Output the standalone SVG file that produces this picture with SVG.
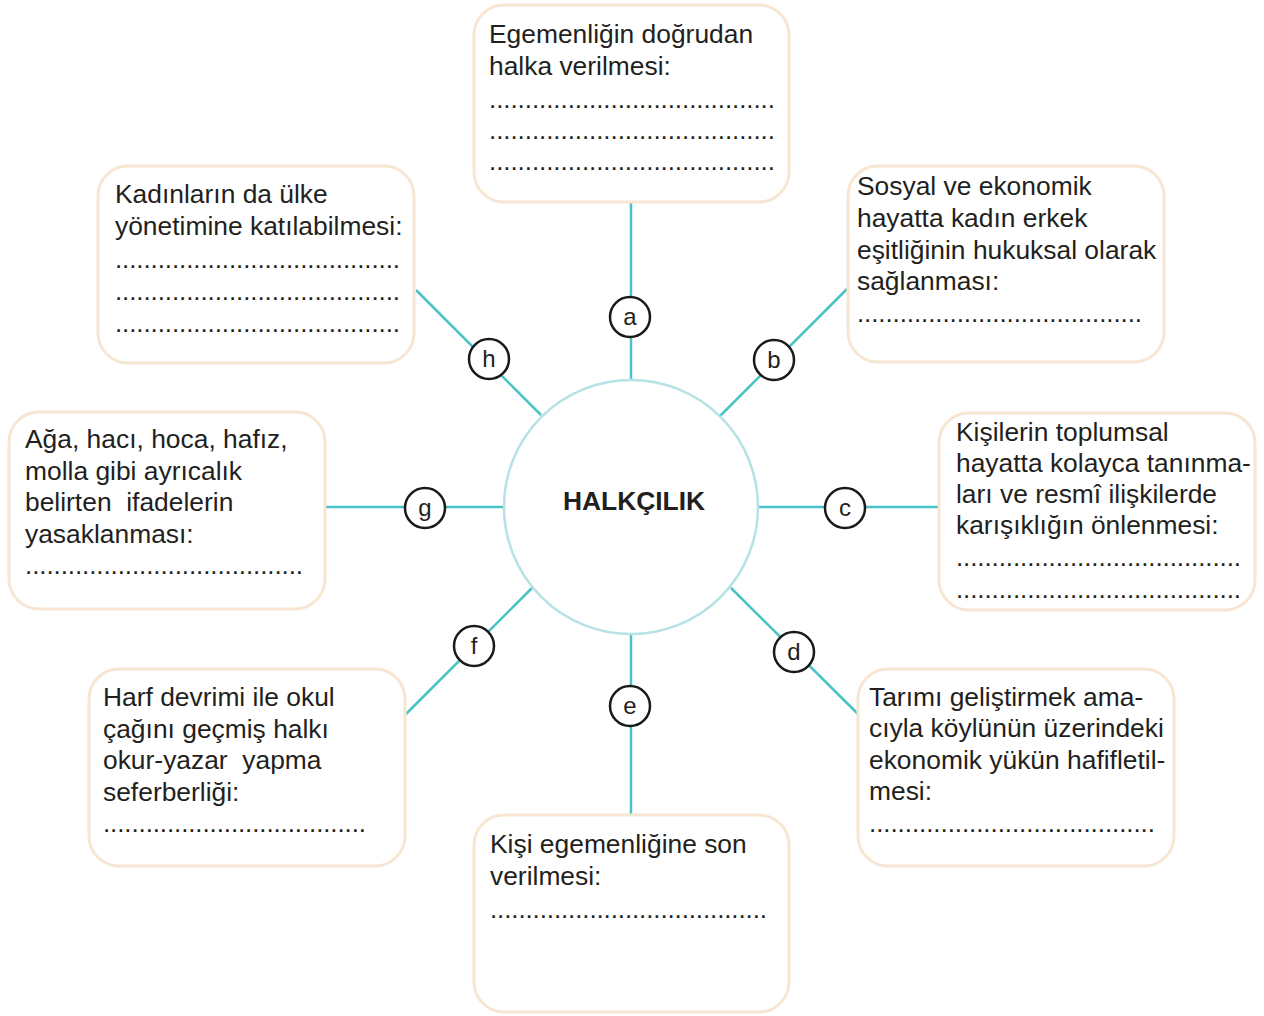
<svg xmlns="http://www.w3.org/2000/svg" width="1264" height="1016" viewBox="0 0 1264 1016">
<style>
.box{fill:#fff;stroke:#f6e6d2;stroke-width:3}
.t{font-family:"Liberation Sans",Arial,sans-serif;font-size:26.4px;fill:#231f20}
.d{font-family:"Liberation Sans",Arial,sans-serif;font-size:26px;fill:#231f20}
.con{stroke:#48c2c6;stroke-width:2.5;fill:none}
.lc{fill:#fff;stroke:#1a1a1a;stroke-width:2.5}
.lt{font-family:"Liberation Sans",Arial,sans-serif;font-size:24px;fill:#231f20;text-anchor:middle}
</style>
<rect width="1264" height="1016" fill="#fff"/>
<g id="connectors">
<line class="con" x1="631" y1="203" x2="631" y2="380"/>
<line class="con" x1="847" y1="289" x2="720" y2="416"/>
<line class="con" x1="758" y1="507" x2="939" y2="507"/>
<line class="con" x1="731" y1="588" x2="858" y2="714"/>
<line class="con" x1="631" y1="634" x2="631" y2="815"/>
<line class="con" x1="532" y1="588" x2="406" y2="714"/>
<line class="con" x1="326" y1="507" x2="504" y2="507"/>
<line class="con" x1="416" y1="290" x2="541" y2="415"/>
</g>
<g id="center">
<circle cx="631" cy="507" r="127" fill="#fff" stroke="#b5e2e4" stroke-width="2.5"/>
<text x="634" y="510" style="font-family:'Liberation Sans',Arial,sans-serif;font-size:26.4px;font-weight:bold;fill:#231f20;text-anchor:middle">HALKÇILIK</text>
</g>
<g id="label-a"><circle class="lc" cx="630" cy="317" r="20"/><text class="lt" x="630" y="325">a</text></g>
<g id="label-b"><circle class="lc" cx="774" cy="360" r="20"/><text class="lt" x="774" y="368">b</text></g>
<g id="label-c"><circle class="lc" cx="845" cy="508" r="20"/><text class="lt" x="845" y="516">c</text></g>
<g id="label-d"><circle class="lc" cx="794" cy="652" r="20"/><text class="lt" x="794" y="660">d</text></g>
<g id="label-e"><circle class="lc" cx="630" cy="706" r="20"/><text class="lt" x="630" y="714">e</text></g>
<g id="label-f"><circle class="lc" cx="474" cy="646" r="20"/><text class="lt" x="474" y="654">f</text></g>
<g id="label-g"><circle class="lc" cx="425" cy="508" r="20"/><text class="lt" x="425" y="516">g</text></g>
<g id="label-h"><circle class="lc" cx="489" cy="359" r="20"/><text class="lt" x="489" y="367">h</text></g>

<g id="box-a">
<rect class="box" x="474" y="5" width="315" height="197" rx="30"/>
<text class="t" x="489" y="43">Egemenliğin doğrudan</text>
<text class="t" x="489" y="75">halka verilmesi:</text>
<text class="d" x="489" y="108" textLength="286" lengthAdjust="spacing">........................................</text>
<text class="d" x="489" y="139" textLength="286" lengthAdjust="spacing">........................................</text>
<text class="d" x="489" y="170" textLength="286" lengthAdjust="spacing">........................................</text>
</g>
<g id="box-b">
<rect class="box" x="848" y="166" width="316" height="196" rx="30"/>
<text class="t" x="857" y="195">Sosyal ve ekonomik</text>
<text class="t" x="857" y="227">hayatta kadın erkek</text>
<text class="t" x="857" y="259">eşitliğinin hukuksal olarak</text>
<text class="t" x="857" y="290">sağlanması:</text>
<text class="d" x="857" y="322" textLength="285" lengthAdjust="spacing">........................................</text>
</g>
<g id="box-c">
<rect class="box" x="939" y="413" width="316" height="197" rx="30"/>
<text class="t" x="956" y="441">Kişilerin toplumsal</text>
<text class="t" x="956" y="472">hayatta kolayca tanınma-</text>
<text class="t" x="956" y="503">ları ve resmî ilişkilerde</text>
<text class="t" x="956" y="534">karışıklığın önlenmesi:</text>
<text class="d" x="956" y="566" textLength="285" lengthAdjust="spacing">........................................</text>
<text class="d" x="956" y="598" textLength="285" lengthAdjust="spacing">........................................</text>
</g>
<g id="box-d">
<rect class="box" x="858" y="669" width="316" height="197" rx="30"/>
<text class="t" x="869" y="706">Tarımı geliştirmek ama-</text>
<text class="t" x="869" y="737">cıyla köylünün üzerindeki</text>
<text class="t" x="869" y="769">ekonomik yükün hafifletil-</text>
<text class="t" x="869" y="800">mesi:</text>
<text class="d" x="869" y="832" textLength="286" lengthAdjust="spacing">........................................</text>
</g>
<g id="box-e">
<rect class="box" x="474" y="815" width="315" height="197" rx="30"/>
<text class="t" x="490" y="853">Kişi egemenliğine son</text>
<text class="t" x="490" y="885">verilmesi:</text>
<text class="d" x="490" y="918" textLength="277" lengthAdjust="spacing">.......................................</text>
</g>
<g id="box-f">
<rect class="box" x="89" y="669" width="316" height="197" rx="30"/>
<text class="t" x="103" y="706">Harf devrimi ile okul</text>
<text class="t" x="103" y="738">çağını geçmiş halkı</text>
<text class="t" x="103" y="769" xml:space="preserve">okur-yazar  yapma</text>
<text class="t" x="103" y="801">seferberliği:</text>
<text class="d" x="103" y="832" textLength="263" lengthAdjust="spacing">.....................................</text>
</g>
<g id="box-g">
<rect class="box" x="9" y="412" width="316" height="197" rx="30"/>
<text class="t" x="25" y="448">Ağa, hacı, hoca, hafız,</text>
<text class="t" x="25" y="480">molla gibi ayrıcalık</text>
<text class="t" x="25" y="511" xml:space="preserve">belirten  ifadelerin</text>
<text class="t" x="25" y="543">yasaklanması:</text>
<text class="d" x="25" y="574" textLength="278" lengthAdjust="spacing">.......................................</text>
</g>
<g id="box-h">
<rect class="box" x="98" y="166" width="316" height="197" rx="30"/>
<text class="t" x="115" y="203">Kadınların da ülke</text>
<text class="t" x="115" y="235">yönetimine katılabilmesi:</text>
<text class="d" x="115" y="268" textLength="285" lengthAdjust="spacing">........................................</text>
<text class="d" x="115" y="300" textLength="285" lengthAdjust="spacing">........................................</text>
<text class="d" x="115" y="332" textLength="285" lengthAdjust="spacing">........................................</text>
</g>
</svg>
